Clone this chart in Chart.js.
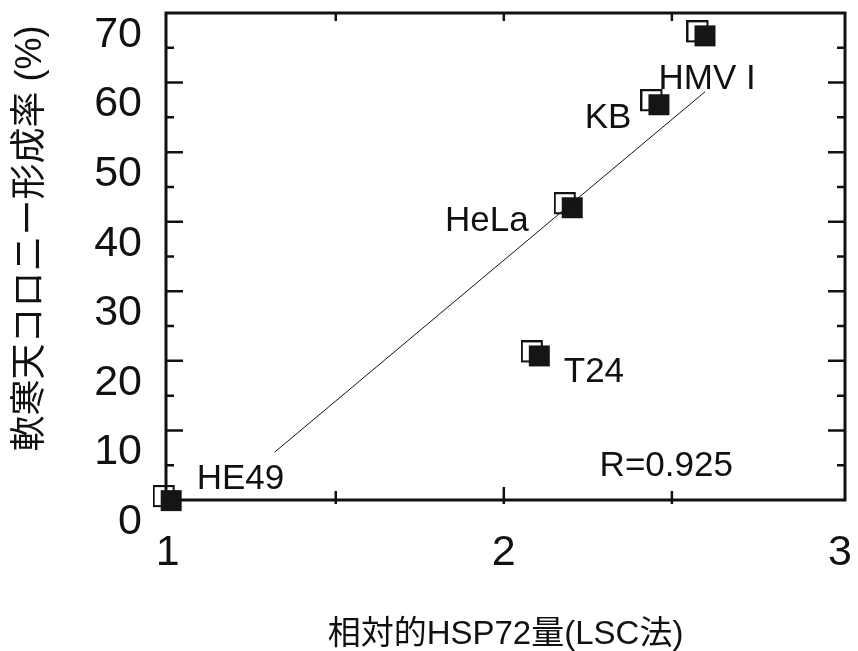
<!DOCTYPE html>
<html>
<head>
<meta charset="utf-8">
<script src="https://cdn.jsdelivr.net/npm/chart.js@4/dist/chart.umd.min.js"></script>
<style>
  html, body { margin: 0; padding: 0; background: #fff; }
  #wrap { width: 858px; height: 651px; }
</style>
</head>
<body>
<div id="wrap"><canvas id="grafico"></canvas></div>
<script>
// dados
const linhasCelulares = ['HE49', 'T24', 'HeLa', 'KB', 'HMV I'];
const hsp72 = [1.0, 2.095, 2.193, 2.451, 2.588];
const colonias = [0.2, 21.0, 42.3, 57.1, 67.0];
const retaX = [1.318, 2.599];
const retaY = [6.87, 58.7];
const textoR = 'R=0.925';
const posR = [2.285, 4.8];
const xTicks = [1, 2, 3];
const xTicksMenores = [1.5, 2, 2.5];
const yTicks = [0, 10, 20, 30, 40, 50, 60, 70];
const yTicksMenores = [5, 15, 25, 35, 45, 55, 65];

const fonte = "'Liberation Sans', 'Noto Sans CJK JP', sans-serif";

// posição dos rótulos em relação ao marcador (px)
const deslocRotulos = {
    'HE49': { dx: 29, dy: -19, align: 'left' },
    'T24': { dx: 28, dy: 18, align: 'left' },
    'HeLa': { dx: -40, dy: 16, align: 'right' },
    'KB': { dx: -24, dy: 16, align: 'right' },
    'HMV I': { dx: -43, dy: 45, align: 'left' }
};

// marcador: quadrado vazio com quadrado cheio deslocado
function criarMarcador() {
    const c = document.createElement('canvas');
    c.width = 30;
    c.height = 27;
    const g = c.getContext('2d');
    g.strokeStyle = '#111';
    g.lineWidth = 2;
    g.strokeRect(1, 1, 20, 20);
    g.fillStyle = '#151515';
    g.fillRect(8, 5, 21, 21);
    return c;
}

// tira o espaço extra que o Chart.js reserva para os rótulos
function semPadding(s) {
    s.paddingTop = 0;
    s.paddingBottom = 0;
    s.paddingLeft = 0;
    s.paddingRight = 0;
}

const pontos = hsp72.map((x, i) => ({ x: x, y: colonias[i] }));
const reta = retaX.map((x, i) => ({ x: x, y: retaY[i] }));

const molduraPlugin = {
    id: 'moldura',
    beforeDatasetsDraw(chart) {
        const { ctx, chartArea: a, scales } = chart;
        ctx.save();
        ctx.strokeStyle = '#111';
        ctx.lineWidth = 3;
        ctx.strokeRect(a.left, a.top, a.right - a.left, a.bottom - a.top);
        ctx.lineWidth = 2.5;
        ctx.beginPath();
        yTicks.slice(1, -1).forEach(v => {
            const y = scales.y.getPixelForValue(v);
            ctx.moveTo(a.left, y); ctx.lineTo(a.left + 17, y);
            ctx.moveTo(a.right, y); ctx.lineTo(a.right - 17, y);
        });
        yTicksMenores.forEach(v => {
            const y = scales.y.getPixelForValue(v);
            ctx.moveTo(a.left, y); ctx.lineTo(a.left + 8, y);
            ctx.moveTo(a.right, y); ctx.lineTo(a.right - 8, y);
        });
        xTicksMenores.forEach(v => {
            const x = scales.x.getPixelForValue(v);
            ctx.moveTo(x, a.top); ctx.lineTo(x, a.top + 8);
            ctx.moveTo(x, a.bottom + 4); ctx.lineTo(x, a.bottom - (v === 2 ? 13 : 9));
        });
        ctx.stroke();
        ctx.restore();
    },
    afterDatasetsDraw(chart) {
        const { ctx, scales } = chart;
        ctx.save();
        ctx.fillStyle = '#111';
        ctx.font = '35px ' + fonte;
        ctx.textBaseline = 'middle';
        linhasCelulares.forEach((nome, i) => {
            const d = deslocRotulos[nome];
            const px = scales.x.getPixelForValue(hsp72[i]);
            const py = scales.y.getPixelForValue(colonias[i]);
            ctx.textAlign = d.align;
            ctx.fillText(nome, px + d.dx, py + d.dy);
        });
        ctx.textAlign = 'left';
        ctx.fillText(textoR, scales.x.getPixelForValue(posR[0]), scales.y.getPixelForValue(posR[1]));
        ctx.restore();
    }
};

new Chart(document.getElementById('grafico'), {
    type: 'scatter',
    data: {
        datasets: [{
            label: 'ajuste',
            type: 'line',
            data: reta,
            showLine: true,
            borderColor: '#111',
            borderWidth: 1,
            pointRadius: 0,
            fill: false
        }, {
            label: 'HSP72',
            data: pontos,
            pointStyle: criarMarcador(),
            pointRadius: 12,
            clip: false
        }]
    },
    options: {
        responsive: true,
        maintainAspectRatio: false,
        animation: false,
        layout: { padding: { left: 0, right: 11, top: 11, bottom: 0 } },
        plugins: {
            legend: { display: false },
            tooltip: { enabled: false }
        },
        scales: {
            x: {
                type: 'linear',
                min: 0.995,
                max: 3.015,
                afterBuildTicks: s => { s.ticks = xTicks.map(v => ({ value: v })); },
                afterFit: s => { s.height = 151; semPadding(s); },
                grid: { display: false, drawTicks: false },
                border: { display: false },
                ticks: {
                    color: '#111',
                    font: { family: fonte, size: 43 },
                    padding: 27,
                    maxRotation: 0
                },
                title: {
                    display: true,
                    text: '相対的HSP72量(LSC法)',
                    color: '#111',
                    font: { family: fonte, size: 33, lineHeight: 1 },
                    padding: 0
                }
            },
            y: {
                min: 0,
                max: 70,
                afterBuildTicks: s => { s.ticks = yTicks.map(v => ({ value: v })); },
                afterFit: s => { s.width = 166; semPadding(s); },
                grid: { display: false, drawTicks: false },
                border: { display: false },
                ticks: {
                    color: '#111',
                    font: { family: fonte, size: 43 },
                    padding: 24,
                    labelOffset: 22
                },
                title: {
                    display: true,
                    text: '\u3000軟寒天コロニー形成率 (%)',
                    color: '#111',
                    font: { family: fonte, size: 36, lineHeight: 1 },
                    padding: { top: 13, bottom: 0 }
                }
            }
        }
    },
    plugins: [molduraPlugin]
});
</script>
</body>
</html>
